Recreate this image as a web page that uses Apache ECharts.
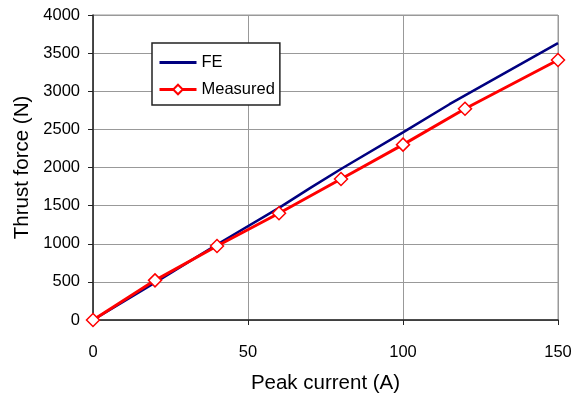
<!DOCTYPE html>
<html><head><meta charset="utf-8">
<script src="https://cdn.jsdelivr.net/npm/echarts@6/dist/echarts.min.js"></script>
<style>html,body{margin:0;padding:0;background:#fff}#c{width:585px;height:399px}</style>
</head><body><div id="c"></div>
<script>
const feX = [0, 20, 40, 60, 70, 80, 100, 115, 150];
const feY = [0, 490, 990, 1470, 1730, 1980, 2460, 2830, 3630];
const measX = [0, 20, 40, 60, 80, 100, 120, 150];
const measY = [0, 520, 970, 1400, 1850, 2300, 2770, 3410];
const xTicks = [0, 50, 100, 150];
const yTicks = [0, 500, 1000, 1500, 2000, 2500, 3000, 3500, 4000];

const font = 'Liberation Sans, Arial, sans-serif';
const chart = echarts.init(document.getElementById('c'), null, {renderer: 'canvas'});
chart.setOption({
  animation: false,
  backgroundColor: '#fff',
  grid: {left: 93, right: 27, top: 15, bottom: 75, show: true, borderColor: '#999', borderWidth: 1},
  legend: {
    orient: 'vertical', left: 152, top: 43,
    borderColor: '#222', borderWidth: 1.5, backgroundColor: '#fff',
    padding: [11, 5, 7, 6], itemGap: 10, itemWidth: 37, itemHeight: 12,
    textStyle: {fontFamily: font, fontSize: 16.5, color: '#000'},
    data: [
      {name: 'FE', itemStyle: {opacity: 0}, lineStyle: {width: 3}},
      {name: 'Measured', lineStyle: {width: 3}}
    ]
  },
  xAxis: {
    type: 'value', min: 0, max: 150, interval: 50,
    name: 'Peak current (A)', nameLocation: 'middle', nameGap: 53,
    nameTextStyle: {fontFamily: font, fontSize: 20.5, color: '#000'},
    axisLine: {show: true, onZero: false, lineStyle: {color: '#222', width: 1.5}},
    axisTick: {show: true, inside: false, length: 5, lineStyle: {color: '#222'}},
    axisLabel: {fontFamily: font, fontSize: 16.5, color: '#000', margin: 24,
      formatter: v => xTicks.includes(v) ? String(v) : ''},
    splitLine: {show: true, lineStyle: {color: '#999', width: 1}}
  },
  yAxis: {
    type: 'value', min: 0, max: 4000, interval: 500,
    name: 'Thrust force (N)', nameLocation: 'middle', nameGap: 58,
    nameTextStyle: {fontFamily: font, fontSize: 20.5, color: '#000'},
    axisLine: {show: true, onZero: false, lineStyle: {color: '#222', width: 1.5}},
    axisTick: {show: true, inside: false, length: 5, lineStyle: {color: '#222'}},
    axisLabel: {fontFamily: font, fontSize: 16.5, color: '#000', margin: 13,
      formatter: v => yTicks.includes(v) ? String(v) : ''},
    splitLine: {show: true, lineStyle: {color: '#999', width: 1}}
  },
  series: [
    {
      name: 'FE', type: 'line', showSymbol: false, symbol: 'none',
      data: feX.map((x, i) => [x, feY[i]]),
      lineStyle: {color: '#000080', width: 2.5}, itemStyle: {color: '#000080'}
    },
    {
      name: 'Measured', type: 'line', symbol: 'diamond', symbolSize: 13,
      data: measX.map((x, i) => [x, measY[i]]),
      lineStyle: {color: '#ff0000', width: 3},
      itemStyle: {color: '#fff', borderColor: '#ff0000', borderWidth: 1.5}
    }
  ]
});
</script></body></html>
